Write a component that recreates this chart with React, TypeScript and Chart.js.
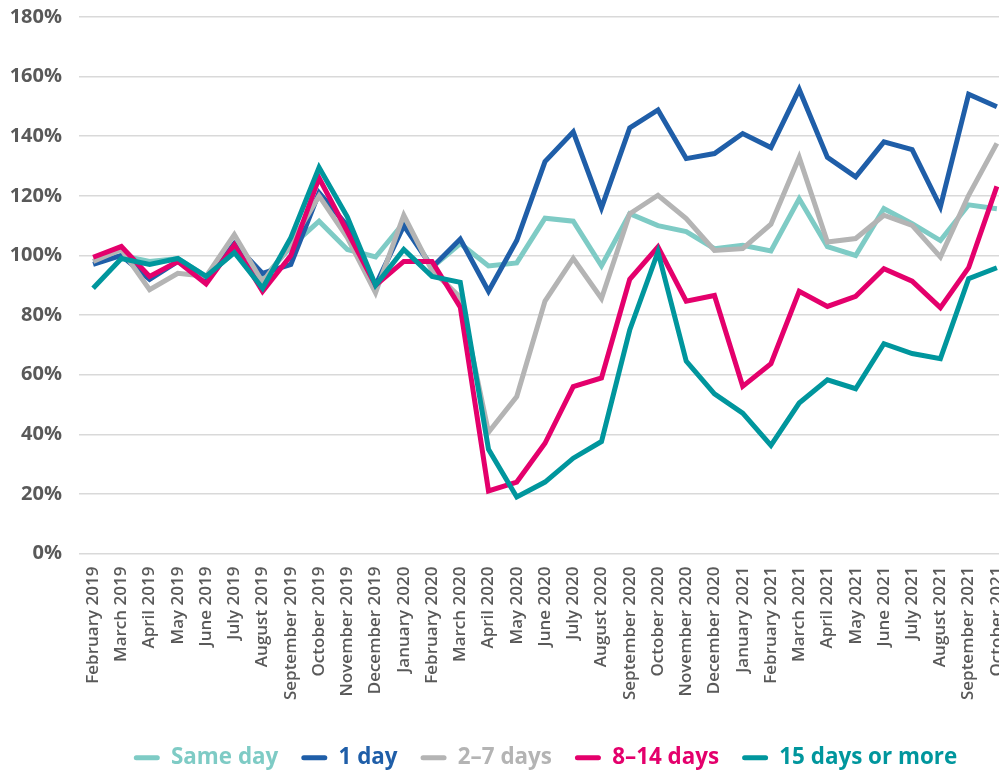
import React, { useEffect, useRef } from "react";
import { Chart, registerables } from "chart.js";

Chart.register(...registerables);

const months = [
  "February 2019", "March 2019", "April 2019", "May 2019", "June 2019", "July 2019",
  "August 2019", "September 2019", "October 2019", "November 2019", "December 2019",
  "January 2020", "February 2020", "March 2020", "April 2020", "May 2020", "June 2020",
  "July 2020", "August 2020", "September 2020", "October 2020", "November 2020",
  "December 2020", "January 2021", "February 2021", "March 2021", "April 2021",
  "May 2021", "June 2021", "July 2021", "August 2021", "September 2021", "October 2021",
];

const sameDay = [98, 100, 98, 99, 93, 101, 92, 103, 111.5, 102, 99.5, 111, 96, 104, 96.5, 97.5, 112.5, 111.5, 96.5, 114, 110, 108, 102.3, 103.4, 101.5, 119, 103, 100, 115.7, 110.7, 105, 117, 115.7];
const oneDay = [97, 100, 92, 98, 92, 104, 94, 97, 121, 110, 90, 110, 96, 105.5, 88, 105, 131.5, 141.5, 116, 142.8, 148.8, 132.5, 134.2, 140.9, 136.2, 155.7, 132.9, 126.4, 138.1, 135.5, 116.3, 154.1, 149.9];
const twoToSevenDays = [98, 102, 88.5, 94, 93, 107, 91, 104, 120, 106, 87.5, 113.5, 95, 86, 40.7, 52.7, 84.7, 99, 85.6, 114, 120.2, 112.4, 101.7, 102.3, 110.5, 132.9, 104.5, 105.7, 113.5, 110.1, 99.5, 120.2, 137.6];
const eightToFourteenDays = [99.4, 103, 93, 98, 90.5, 103.5, 88, 100, 126, 108, 90, 98, 98, 82.7, 21, 24, 37, 56, 58.9, 92, 102.9, 84.7, 86.6, 56.1, 63.7, 88, 82.9, 86.3, 95.6, 91.4, 82.5, 95.9, 123.2];
const fifteenDaysOrMore = [89, 99, 97, 99, 93, 101, 89, 106, 129.5, 113, 90, 102, 93, 91, 35, 19, 24, 32, 37.6, 75, 101.2, 64.6, 53.6, 47.1, 36.3, 50.5, 58.3, 55.3, 70.4, 67.1, 65.4, 92.2, 95.9];

const seriesNames = ["Same day", "1 day", "2–7 days", "8–14 days", "15 days or more"];
const seriesColors = ["#7ECBC5", "#1F5EA8", "#B4B4B4", "#E4006C", "#00969D"];
const seriesValues = [sameDay, oneDay, twoToSevenDays, eightToFourteenDays, fifteenDaysOrMore];

const yMin = 0;
const yMax = 180;
const yStep = 20;

const FONT = "'Open Sans', 'Noto Sans', sans-serif";
const TEXT_GRAY = "#595959";

const legendShift = {
  id: "legendShift",
  afterLayout(chart: any) {
    const lg = chart.legend;
    if (!lg) return;
    lg.left += 40;
    lg.right += 40;
    lg.top += 8;
    lg.bottom += 8;
  },
};

export default function App() {
  const canvasRef = useRef<HTMLCanvasElement | null>(null);

  useEffect(() => {
    if (!canvasRef.current) return;
    const chart = new Chart(canvasRef.current, {
      type: "line",
      data: {
        labels: months,
        datasets: seriesValues.map((vals, i) => ({
          label: seriesNames[i],
          data: vals,
          borderColor: seriesColors[i],
          backgroundColor: seriesColors[i],
          borderWidth: 5,
          pointRadius: 0,
          tension: 0,
          borderJoinStyle: "miter" as const,
          fill: false,
          order: seriesValues.length - 1 - i,
        })),
      },
      options: {
        responsive: false,
        animation: false,
        devicePixelRatio: 1,
        layout: { padding: { top: 17, left: 0, right: 0, bottom: 0 } },
        plugins: {
          tooltip: { enabled: false },
          legend: {
            position: "bottom",
            labels: {
              boxWidth: 26,
              boxHeight: 5,
              padding: 23,
              font: { family: FONT, size: 22.4, weight: "bold" },
              generateLabels: (c: any) =>
                c.data.datasets.map((ds: any, i: number) => ({
                  text: ds.label,
                  fillStyle: seriesColors[i],
                  strokeStyle: seriesColors[i],
                  fontColor: seriesColors[i],
                  lineWidth: 0,
                  borderRadius: 2.5,
                  hidden: false,
                  datasetIndex: i,
                })),
            },
          },
        },
        scales: {
          x: {
            offset: true,
            grid: { display: false, drawTicks: false },
            border: { display: false },
            afterFit: (s: any) => {
              s.height = 162;
              s.paddingLeft = 0;
              s.paddingRight = 0;
            },
            ticks: {
              autoSkip: false,
              minRotation: 90,
              maxRotation: 90,
              padding: 13,
              color: TEXT_GRAY,
              font: { family: FONT, size: 17, weight: 600 },
            },
          },
          y: {
            min: yMin,
            max: yMax,
            afterFit: (s: any) => {
              s.width = 79;
              s.paddingTop = 0;
              s.paddingBottom = 0;
            },
            grid: { color: "#D9D9D9", lineWidth: 1.5, drawTicks: false },
            border: { display: false },
            ticks: {
              stepSize: yStep,
              padding: 17,
              color: TEXT_GRAY,
              font: { family: FONT, size: 20, weight: "bold" },
              callback: (v: any) => `${v}%`,
            },
          },
        },
      },
      plugins: [legendShift],
    });
    return () => chart.destroy();
  }, []);

  return (
    <div
      style={{
        position: "fixed",
        left: 0,
        top: 0,
        width: 999,
        height: 771,
        overflow: "hidden",
        background: "#fff",
      }}
    >
      <canvas ref={canvasRef} width={1011} height={771} style={{ display: "block" }} />
    </div>
  );
}
